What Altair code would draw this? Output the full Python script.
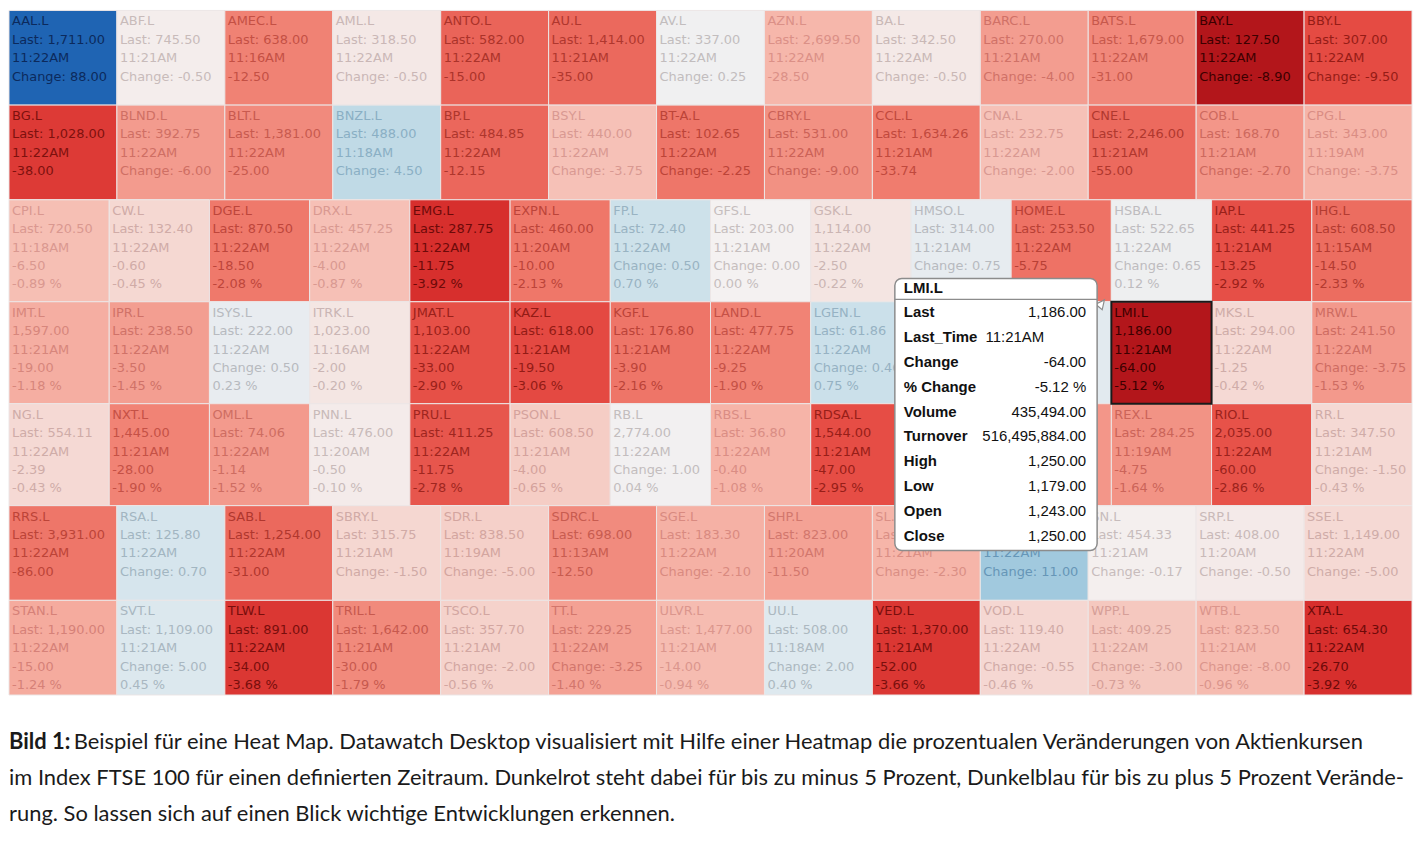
import altair as alt
import pandas as pd

# ---------------- data ----------------
row_sizes = [13, 13, 14, 14, 14, 13, 13]

tickers = [
    "AAL.L", "ABF.L", "AMEC.L", "AML.L", "ANTO.L", "AU.L", "AV.L", "AZN.L", "BA.L", "BARC.L", "BATS.L", "BAY.L", "BBY.L",
    "BG.L", "BLND.L", "BLT.L", "BNZL.L", "BP.L", "BSY.L", "BT-A.L", "CBRY.L", "CCL.L", "CNA.L", "CNE.L", "COB.L", "CPG.L",
    "CPI.L", "CW.L", "DGE.L", "DRX.L", "EMG.L", "EXPN.L", "FP.L", "GFS.L", "GSK.L", "HMSO.L", "HOME.L", "HSBA.L", "IAP.L", "IHG.L",
    "IMT.L", "IPR.L", "ISYS.L", "ITRK.L", "JMAT.L", "KAZ.L", "KGF.L", "LAND.L", "LGEN.L", "LII.L", "LLOY.L", "LMI.L", "MKS.L", "MRW.L",
    "NG.L", "NXT.L", "OML.L", "PNN.L", "PRU.L", "PSON.L", "RB.L", "RBS.L", "RDSA.L", "RDSB.L", "REL.L", "REX.L", "RIO.L", "RR.L",
    "RRS.L", "RSA.L", "SAB.L", "SBRY.L", "SDR.L", "SDRC.L", "SGE.L", "SHP.L", "SL.L", "SMIN.L", "SN.L", "SRP.L", "SSE.L",
    "STAN.L", "SVT.L", "TLW.L", "TRIL.L", "TSCO.L", "TT.L", "ULVR.L", "UU.L", "VED.L", "VOD.L", "WPP.L", "WTB.L", "XTA.L",
]
# cells lying completely under the tooltip (their labels are not visible)
hidden_under_tip = ["LII.L", "LLOY.L", "RDSB.L", "REL.L"]

last_txt = [
    "Last: 1,711.00", "Last: 745.50", "Last: 638.00", "Last: 318.50", "Last: 582.00", "Last: 1,414.00", "Last: 337.00",
    "Last: 2,699.50", "Last: 342.50", "Last: 270.00", "Last: 1,679.00", "Last: 127.50", "Last: 307.00",
    "Last: 1,028.00", "Last: 392.75", "Last: 1,381.00", "Last: 488.00", "Last: 484.85", "Last: 440.00", "Last: 102.65",
    "Last: 531.00", "Last: 1,634.26", "Last: 232.75", "Last: 2,246.00", "Last: 168.70", "Last: 343.00",
    "Last: 720.50", "Last: 132.40", "Last: 870.50", "Last: 457.25", "Last: 287.75", "Last: 460.00", "Last: 72.40",
    "Last: 203.00", "1,114.00", "Last: 314.00", "Last: 253.50", "Last: 522.65", "Last: 441.25", "Last: 608.50",
    "1,597.00", "Last: 238.50", "Last: 222.00", "1,023.00", "1,103.00", "Last: 618.00", "Last: 176.80",
    "Last: 477.75", "Last: 61.86", "Last: 262.00", "Last: 101.95", "1,186.00", "Last: 294.00", "Last: 241.50",
    "Last: 554.11", "1,445.00", "Last: 74.06", "Last: 476.00", "Last: 411.25", "Last: 608.50", "2,774.00",
    "Last: 36.80", "1,544.00", "1,506.00", "Last: 528.50", "Last: 284.25", "2,035.00", "Last: 347.50",
    "Last: 3,931.00", "Last: 125.80", "Last: 1,254.00", "Last: 315.75", "Last: 838.50", "Last: 698.00", "Last: 183.30",
    "Last: 823.00", "Last: 215.40", "Last: 769.00", "Last: 454.33", "Last: 408.00", "Last: 1,149.00",
    "Last: 1,190.00", "Last: 1,109.00", "Last: 891.00", "Last: 1,642.00", "Last: 357.70", "Last: 229.25", "Last: 1,477.00",
    "Last: 508.00", "Last: 1,370.00", "Last: 119.40", "Last: 409.25", "Last: 823.50", "Last: 654.30",
]

times = [
    "11:22AM", "11:21AM", "11:16AM", "11:22AM", "11:22AM", "11:21AM", "11:22AM", "11:22AM", "11:22AM", "11:21AM", "11:22AM", "11:22AM", "11:22AM",
    "11:22AM", "11:22AM", "11:22AM", "11:18AM", "11:22AM", "11:22AM", "11:22AM", "11:22AM", "11:21AM", "11:22AM", "11:21AM", "11:21AM", "11:19AM",
    "11:18AM", "11:22AM", "11:22AM", "11:22AM", "11:22AM", "11:20AM", "11:22AM", "11:21AM", "11:22AM", "11:21AM", "11:22AM", "11:22AM", "11:21AM", "11:15AM",
    "11:21AM", "11:22AM", "11:22AM", "11:16AM", "11:22AM", "11:21AM", "11:21AM", "11:22AM", "11:22AM", "11:22AM", "11:22AM", "11:21AM", "11:22AM", "11:22AM",
    "11:22AM", "11:21AM", "11:22AM", "11:20AM", "11:22AM", "11:21AM", "11:22AM", "11:22AM", "11:21AM", "11:22AM", "11:21AM", "11:19AM", "11:22AM", "11:21AM",
    "11:22AM", "11:22AM", "11:22AM", "11:21AM", "11:19AM", "11:13AM", "11:22AM", "11:20AM", "11:21AM", "11:22AM", "11:21AM", "11:20AM", "11:22AM",
    "11:22AM", "11:21AM", "11:22AM", "11:21AM", "11:21AM", "11:22AM", "11:21AM", "11:18AM", "11:21AM", "11:22AM", "11:22AM", "11:21AM", "11:22AM",
]

change_txt = [
    "Change: 88.00", "Change: -0.50", "-12.50", "Change: -0.50", "-15.00", "-35.00", "Change: 0.25", "-28.50",
    "Change: -0.50", "Change: -4.00", "-31.00", "Change: -8.90", "Change: -9.50",
    "-38.00", "Change: -6.00", "-25.00", "Change: 4.50", "-12.15", "Change: -3.75", "Change: -2.25", "Change: -9.00",
    "-33.74", "Change: -2.00", "-55.00", "Change: -2.70", "Change: -3.75",
    "-6.50", "-0.60", "-18.50", "-4.00", "-11.75", "-10.00", "Change: 0.50", "Change: 0.00", "-2.50", "Change: 0.75",
    "-5.75", "Change: 0.65", "-13.25", "-14.50",
    "-19.00", "-3.50", "Change: 0.50", "-2.00", "-33.00", "-19.50", "-3.90", "-9.25", "Change: 0.46", "Change: 1.20",
    "Change: 0.35", "-64.00", "-1.25", "Change: -3.75",
    "-2.39", "-28.00", "-1.14", "-0.50", "-11.75", "-4.00", "Change: 1.00", "-0.40", "-47.00", "-41.00", "-8.50",
    "-4.75", "-60.00", "Change: -1.50",
    "-86.00", "Change: 0.70", "-31.00", "Change: -1.50", "Change: -5.00", "-12.50", "Change: -2.10", "-11.50",
    "Change: -2.30", "Change: 11.00", "Change: -0.17", "Change: -0.50", "Change: -5.00",
    "-15.00", "Change: 5.00", "-34.00", "-30.00", "Change: -2.00", "Change: -3.25", "-14.00", "Change: 2.00", "-52.00",
    "Change: -0.55", "Change: -3.00", "Change: -8.00", "-26.70",
]

# percentage change (colour value); rows 1, 2 and 6 show no % line in the picture
pct = [
    5.42, -0.07, -1.92, -0.16, -2.51, -2.41, 0.07, -1.04, -0.15, -1.46, -1.81, -6.53, -3.00,
    -3.56, -1.50, -1.78, 0.93, -2.44, -0.85, -2.14, -1.67, -2.02, -0.85, -2.39, -1.58, -1.08,
    -0.89, -0.45, -2.08, -0.87, -3.92, -2.13, 0.70, 0.00, -0.22, 0.24, -2.22, 0.12, -2.92, -2.33,
    -1.18, -1.45, 0.23, -0.20, -2.90, -3.06, -2.16, -1.90, 0.75, 0.46, 0.34, -5.12, -0.42, -1.53,
    -0.43, -1.90, -1.52, -0.10, -2.78, -0.65, 0.04, -1.08, -2.95, -2.65, -1.58, -1.64, -2.86, -0.43,
    -2.14, 0.56, -2.41, -0.47, -0.59, -1.76, -1.13, -1.38, -1.06, 1.45, -0.04, -0.12, -0.43,
    -1.24, 0.45, -3.68, -1.79, -0.56, -1.40, -0.94, 0.40, -3.66, -0.46, -0.73, -0.96, -3.92,
]
show_pct_rows = [False, False, True, True, True, False, True]

tip_title = "LMI.L"
tip_labels = ["Last", "Last_Time", "Change", "% Change", "Volume", "Turnover", "High", "Low", "Open", "Close"]
tip_last = "1,186.00"
tip_time = "11:21AM"
tip_values = ["-64.00", "-5.12 %", "435,494.00", "516,495,884.00", "1,250.00", "1,179.00", "1,243.00", "1,250.00"]

caption_bold = "Bild 1:"
caption_lines = [
    "Beispiel für eine Heat Map. Datawatch Desktop visualisiert mit Hilfe einer Heatmap die prozentualen Veränderungen von Aktienkursen",
    "im Index FTSE 100 für einen definierten Zeitraum. Dunkelrot steht dabei für bis zu minus 5 Prozent, Dunkelblau für bis zu plus 5 Prozent Verände-",
    "rung. So lassen sich auf einen Blick wichtige Entwicklungen erkennen.",
]

# ---------------- build table ----------------
records = []
i = 0
y_off = 0
for r, n in enumerate(row_sizes):
    for c in range(n):
        lines = [tickers[i], last_txt[i], times[i], change_txt[i]]
        if show_pct_rows[r]:
            lines.append(f"{pct[i]:.2f} %")
        records.append({
            "ticker": tickers[i],
            "x0": c / n, "x1": (c + 1) / n,
            "y0": y_off, "y1": y_off + n,
            "pct": pct[i],
            "label": "\n".join(lines),
            "visible": tickers[i] not in hidden_under_tip,
        })
        i += 1
    y_off += n
df = pd.DataFrame(records)
total = y_off

W, H = 1408, 687
xs = alt.Scale(domain=[0, 1], nice=False, zero=False)
ys = alt.Scale(domain=[0, total], nice=False, zero=False, reverse=True)

fill_scale = alt.Scale(
    domain=[-5, -4, -3, -2, -1, 0, 0.5, 1, 2, 5],
    range=["#b3161b", "#d62d2b", "#e54b43", "#f07d6f", "#f6b9ad", "#f4f1f1", "#d9e7ee", "#bcd8e5", "#80b6d5", "#1f64b3"],
    clamp=True, interpolate="rgb",
)
text_scale = alt.Scale(
    domain=[-5, -4, -3, -2, -1, 0, 1, 2, 5],
    range=["#3c0000", "#6a0808", "#951c16", "#c24a3e", "#dc938a", "#c6bebe", "#86aec4", "#3f78a8", "#0c2a5c"],
    clamp=True, interpolate="rgb",
)

base = alt.Chart(df)
cells = base.mark_rect(stroke="#ece6e6", strokeWidth=1).encode(
    x=alt.X("x0:Q", scale=xs, axis=None),
    x2="x1:Q",
    y=alt.Y("y0:Q", scale=ys, axis=None),
    y2="y1:Q",
    color=alt.Color("pct:Q", scale=fill_scale, legend=None),
)
labels = base.transform_filter(alt.datum.visible).mark_text(
    align="left", baseline="top", dx=3, dy=5, font="DejaVu Sans", fontSize=13,
    lineBreak="\n", lineHeight=18.5,
).encode(
    x=alt.X("x0:Q", scale=xs, axis=None),
    y=alt.Y("y0:Q", scale=ys, axis=None),
    text="label:N",
    color=alt.Color("pct:Q", scale=text_scale, legend=None),
)
sel = base.transform_filter(alt.datum.ticker == tip_title).mark_rect(
    fillOpacity=0, stroke="#1a1a1a", strokeWidth=2
).encode(
    x=alt.X("x0:Q", scale=xs, axis=None), x2="x1:Q",
    y=alt.Y("y0:Q", scale=ys, axis=None), y2="y1:Q",
)

LH = 24.9
tip_data = alt.Data(values=[{
    "title": tip_title,
    "labels": "\n".join(tip_labels),
    "last": tip_last,
    "time": tip_time,
    "values": "\n".join(tip_values),
}])
tip = alt.Chart(tip_data)
tip_box = tip.mark_rect(fill="white", stroke="#8c8c8c", strokeWidth=1.5, cornerRadius=7).encode(
    x=alt.value(889), x2=alt.value(1092), y=alt.value(269), y2=alt.value(542)
)
tip_pointer = tip.mark_point(
    shape="M-1,-0.2L0.6,-1L0.2,0.8Z", size=120, filled=True, fill="white",
    stroke="#8c8c8c", strokeWidth=1.2, opacity=1
).encode(x=alt.value(1096), y=alt.value(296))
tip_sep = tip.mark_rule(color="#8c8c8c", strokeWidth=1.2).encode(
    x=alt.value(889), x2=alt.value(1092), y=alt.value(290)
)
tfont = dict(font="Liberation Sans", fontSize=15, color="#111")
tip_title_t = tip.mark_text(align="left", baseline="middle", fontWeight="bold", **tfont).encode(
    x=alt.value(898), y=alt.value(279), text="title:N")
tip_lab = tip.mark_text(align="left", baseline="top", fontWeight="bold", lineBreak="\n", lineHeight=LH,
                        **tfont).encode(x=alt.value(898), y=alt.value(296), text="labels:N")
tip_last_t = tip.mark_text(align="right", baseline="top", **tfont).encode(
    x=alt.value(1081), y=alt.value(296), text="last:N")
tip_tm = tip.mark_text(align="left", baseline="top", **tfont).encode(
    x=alt.value(980), y=alt.value(296 + LH), text="time:N")
tip_val = tip.mark_text(align="right", baseline="top", lineBreak="\n", lineHeight=LH, **tfont).encode(
    x=alt.value(1081), y=alt.value(296 + 2 * LH), text="values:N")

cap_data = alt.Data(values=[{"b": caption_bold, "l0": caption_lines[0], "l1": caption_lines[1], "l2": caption_lines[2]}])
cap = alt.Chart(cap_data)
cfont = dict(font="Lato", fontSize=22, color="#1a1a1a", align="left", baseline="middle")
cap_b = cap.mark_text(fontWeight="bold", **cfont).encode(x=alt.value(0), y=alt.value(734), text="b:N")
cap_0 = cap.mark_text(**cfont).encode(x=alt.value(65), y=alt.value(734), text="l0:N")
cap_1 = cap.mark_text(**cfont).encode(x=alt.value(0), y=alt.value(770), text="l1:N")
cap_2 = cap.mark_text(**cfont).encode(x=alt.value(0), y=alt.value(806), text="l2:N")

chart = alt.layer(
    cells, labels, sel, tip_pointer, tip_box, tip_sep, tip_title_t, tip_lab, tip_last_t, tip_tm, tip_val,
    cap_b, cap_0, cap_1, cap_2,
).resolve_scale(color="independent").properties(
    width=W, height=H, padding=0, background="white"
).configure_view(stroke=None)

chart.save("out.html", embed_options={"renderer": "svg", "actions": False})
